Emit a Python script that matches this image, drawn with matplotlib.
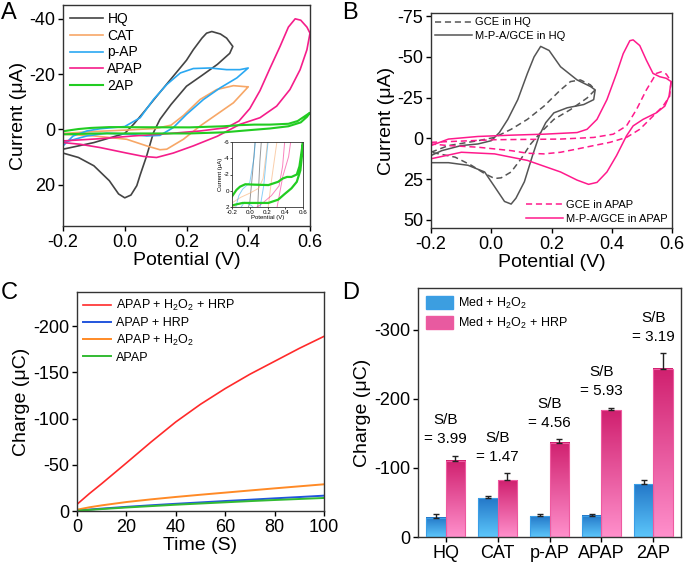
import numpy as np
import matplotlib
matplotlib.use("Agg")
import matplotlib.pyplot as plt
from matplotlib.colors import LinearSegmentedColormap
from matplotlib.patches import Patch

plt.rcParams["font.family"] = ["Liberation Sans", "DejaVu Sans"]
plt.rcParams["mathtext.fontset"] = "custom"
plt.rcParams["mathtext.rm"] = "Liberation Sans"
plt.rcParams["mathtext.it"] = "Liberation Sans:italic"
plt.rcParams["axes.unicode_minus"] = False
plt.rcParams["axes.linewidth"] = 1.0
plt.rcParams["axes.edgecolor"] = "#333333"
plt.rcParams["lines.solid_joinstyle"] = "round"

# ---------------- A: CV of mediators (potential V, current uA) ----------------
hq_fwd_v = [-0.2, -0.1, 0.0, 0.03, 0.06, 0.1, 0.157, 0.2, 0.222, 0.25, 0.265, 0.282, 0.31, 0.33, 0.35]
hq_fwd_i = [7.2, 4.8, 1.5, -2, -6, -11.5, -19.2, -25, -28.8, -33, -34.8, -35.4, -34.5, -33, -30]
hq_rev_v = [0.35, 0.34, 0.3, 0.25, 0.2, 0.15, 0.114, 0.093, 0.071, 0.05, 0.039, 0.02, 0.0, -0.02, -0.05, -0.1, -0.15, -0.2]
hq_rev_i = [-30, -27.5, -23.5, -19.5, -15.6, -9, -3.6, 1.2, 9.6, 16.5, 20.4, 23.8, 24.8, 23.4, 18.6, 13.2, 10.2, 8.6]

cat_fwd_v = [-0.2, -0.1, 0.0, 0.1, 0.15, 0.19, 0.244, 0.298, 0.352, 0.395, 0.4]
cat_fwd_i = [1.5, 0.8, 0.3, -0.3, -1.5, -5, -10.8, -14.4, -15.8, -15.4, -15.4]
cat_rev_v = [0.4, 0.352, 0.298, 0.244, 0.19, 0.136, 0.114, 0.071, 0.006, -0.1, -0.2]
cat_rev_i = [-15.4, -9.6, -5.4, -1.2, 3.6, 7.2, 7.4, 6, 3.6, 2.4, 1.8]

pap_fwd_v = [-0.2, -0.167, -0.123, -0.08, 0.0, 0.05, 0.093, 0.136, 0.18, 0.222, 0.276, 0.33, 0.373, 0.4]
pap_fwd_i = [6.0, 2.4, 0.6, -0.2, -1.0, -4.2, -10.8, -16.2, -20.4, -22, -22.2, -21.6, -21.6, -22.2]
pap_rev_v = [0.4, 0.363, 0.309, 0.255, 0.2, 0.157, 0.114, 0.071, 0.017, -0.058, -0.123, -0.2]
pap_rev_i = [-22.2, -18.6, -15, -10.8, -5.4, -0.6, 2.2, 2.4, 1.8, 1.4, 2.4, 4.8]

apap_fwd_v = [-0.2, -0.08, 0.028, 0.136, 0.244, 0.33, 0.37, 0.405, 0.438, 0.47, 0.503, 0.53, 0.552, 0.57, 0.59, 0.6]
apap_fwd_i = [4.2, 3.4, 2.4, 1.6, 0.6, -0.6, -3, -7.5, -14, -22, -30, -37, -40, -39.5, -37, -34.8]
apap_rev_v = [0.6, 0.59, 0.568, 0.535, 0.492, 0.438, 0.373, 0.3, 0.222, 0.157, 0.103, 0.06, 0.006, -0.08, -0.145, -0.2]
apap_rev_i = [-34.8, -28.8, -21.6, -14.4, -8.4, -4.2, -1.8, 2.5, 6, 8.6, 10.2, 9.8, 8.6, 6.6, 5.4, 4.8]

ap2_fwd_v = [-0.2, -0.15, -0.11, -0.05, 0.05, 0.21, 0.32, 0.37, 0.42, 0.47, 0.53, 0.56, 0.58, 0.6]
ap2_fwd_i = [0.7, -0.1, -0.5, -0.8, -0.75, -0.7, -1.1, -1.5, -1.7, -1.7, -2.0, -3.0, -4.5, -6]
ap2_rev_v = [0.6, 0.59, 0.57, 0.53, 0.47, 0.39, 0.32, 0.21, 0.07, -0.08, -0.2]
ap2_rev_i = [-6, -4.5, -2.5, -1.1, -0.3, 0.43, 1.1, 1.5, 1.5, 1.5, 1.8]

# ---------------- B: bare GCE vs M-P-A/GCE ----------------
gce_hq_fwd_v = [-0.2, -0.142, -0.044, 0.011, 0.066, 0.12, 0.175, 0.23, 0.263, 0.296, 0.329, 0.345]
gce_hq_fwd_i = [8.5, 4.4, 1.4, -0.6, -5.6, -11.7, -19.8, -29.8, -34.9, -35.9, -32.9, -29.8]
gce_hq_rev_v = [0.345, 0.318, 0.263, 0.208, 0.164, 0.131, 0.099, 0.066, 0.033, 0.011, -0.022, -0.066, -0.12, -0.2]
gce_hq_rev_i = [-29.8, -24.8, -17.7, -11.7, -3.6, 3.4, 12.5, 20.6, 24.2, 24.6, 21.6, 16.5, 11.5, 8.5]

mpa_hq_fwd_v = [-0.2, -0.164, -0.1, -0.044, 0.0, 0.027, 0.055, 0.088, 0.12, 0.142, 0.164, 0.192, 0.23, 0.285, 0.329, 0.345]
mpa_hq_fwd_i = [10.5, 7.5, 4.4, 3.4, 1.4, -3.6, -11.7, -23.8, -39.9, -50, -56.5, -54, -44, -35.9, -31.9, -29.8]
mpa_hq_rev_v = [0.345, 0.34, 0.307, 0.252, 0.208, 0.181, 0.159, 0.137, 0.11, 0.082, 0.066, 0.044, 0.011, -0.022, -0.077, -0.142, -0.2]
mpa_hq_rev_i = [-29.8, -23.8, -20.8, -18.8, -15.7, -9.7, -1.6, 10.5, 26.6, 36.7, 40.3, 38.7, 29.6, 20.6, 16.5, 14.9, 14.9]

gce_apap_fwd_v = [-0.2, 0.011, 0.23, 0.34, 0.405, 0.449, 0.482, 0.515, 0.548, 0.564, 0.581, 0.597]
gce_apap_fwd_i = [2.4, 0.8, 0.4, -0.6, -2.6, -7.7, -17.7, -29.8, -39.9, -40.9, -39.5, -34.9]
gce_apap_rev_v = [0.597, 0.592, 0.57, 0.537, 0.493, 0.449, 0.394, 0.34, 0.285, 0.23, 0.175, 0.12, 0.066, -0.044, -0.142, -0.2]
gce_apap_rev_i = [-34.9, -25.8, -19.8, -13.7, -5.6, -0.6, 2.4, 4.4, 6.5, 8.5, 9.5, 9.1, 7.5, 5.4, 4.4, 3.4]

mpa_apap_fwd_v = [-0.2, -0.142, -0.044, 0.066, 0.175, 0.285, 0.318, 0.351, 0.384, 0.416, 0.438, 0.46, 0.471, 0.493, 0.515, 0.537, 0.559, 0.581, 0.597]
mpa_apap_fwd_i = [4.4, 0.4, -1.2, -2, -2.6, -3.6, -5.6, -11.7, -23.8, -39.9, -52, -60, -60.5, -57, -48, -39.9, -37.9, -36.9, -34.9]
mpa_apap_rev_v = [0.597, 0.59, 0.576, 0.548, 0.504, 0.471, 0.449, 0.416, 0.384, 0.351, 0.323, 0.285, 0.23, 0.12, 0.011, -0.099, -0.2]
mpa_apap_rev_i = [-34.9, -25.8, -19.8, -15.7, -11.7, -7.7, -1.6, 10.5, 20.6, 27, 28.2, 25.6, 20.6, 13.5, 9.5, 8.5, 12.5]

# ---------------- C: charge vs time ----------------
t_c = [0, 5, 10, 20, 30, 40, 50, 60, 70, 80, 90, 100]
q_h2o2_hrp = [-7.2, -18.8, -29.6, -52, -74.7, -96.4, -115.5, -132.5, -148, -162, -176, -189]
q_hrp = [-0.5, -1.6, -2.6, -4.5, -6.2, -7.8, -9.3, -10.8, -12.2, -13.7, -15.1, -16.6]
q_h2o2 = [-1.4, -4, -6.1, -9.7, -12.6, -15.2, -17.6, -19.9, -22.2, -24.5, -26.7, -28.9]
q_apap = [-0.3, -1.2, -2.1, -3.8, -5.3, -6.8, -8.1, -9.4, -10.7, -11.9, -13, -14.1]

# ---------------- D: bars ----------------
med_names = ["HQ", "CAT", "p-AP", "APAP", "2AP"]
q_med = [-27.6, -55.8, -29.8, -30.9, -76.3]
q_med_err = [5, 4, 3.5, 2, 6]
q_med_hrp = [-110, -82, -136, -183, -243.5]
q_med_hrp_err = [7, 10, 5, 3.5, 22]
sb_ratio = ["3.99", "1.47", "4.56", "5.93", "3.19"]

TICK = 13
LAB = 14

fig = plt.figure(figsize=(6.85, 5.62), dpi=100)


def style(ax):
    ax.tick_params(direction="out", length=3.5, width=1, labelsize=TICK, top=False, right=False, pad=2)


def loop(fv, fi, rv, ri):
    return list(fv) + list(rv[1:]), list(fi) + list(ri[1:])


# ---------- Panel A ----------
axA = fig.add_axes([63 / 685, 1 - 226 / 562, 247 / 685, 221 / 562])
curvesA = [
    ("HQ", "#444444", hq_fwd_v, hq_fwd_i, hq_rev_v, hq_rev_i, 1.2),
    ("CAT", "#f7a767", cat_fwd_v, cat_fwd_i, cat_rev_v, cat_rev_i, 1.2),
    ("p-AP", "#2aa8f2", pap_fwd_v, pap_fwd_i, pap_rev_v, pap_rev_i, 1.2),
    ("APAP", "#f51d8a", apap_fwd_v, apap_fwd_i, apap_rev_v, apap_rev_i, 1.2),
    ("2AP", "#22cc22", ap2_fwd_v, ap2_fwd_i, ap2_rev_v, ap2_rev_i, 1.5),
]
for name, c, fv, fi, rv, ri, lw in curvesA:
    x, y = loop(fv, fi, rv, ri)
    axA.plot(x, y, color=c, lw=lw, label=name)
axA.set_xlim(-0.2, 0.6)
axA.set_ylim(35, -45)
axA.set_xticks([-0.2, 0.0, 0.2, 0.4, 0.6])
axA.set_yticks([-40, -20, 0, 20])
style(axA)
axA.set_xlabel("Potential (V)", fontsize=LAB, labelpad=1)
axA.set_ylabel("Current (μA)", fontsize=LAB, labelpad=2)
axA.legend(loc="upper left", frameon=False, fontsize=10, handlelength=2.4,
           handletextpad=0.3, labelspacing=0.2, borderaxespad=0.3, borderpad=0.2)

# inset
axI = fig.add_axes([232 / 685, 1 - 207 / 562, 71 / 685, 65 / 562])
for name, c, fv, fi, rv, ri, lw in curvesA:
    x, y = loop(fv, fi, rv, ri)
    if name == "2AP":
        axI.plot(x, y, color=c, lw=1.6)
    else:
        axI.plot(x, y, color=c, lw=0.7, alpha=0.55)
axI.set_xlim(-0.2, 0.6)
axI.set_ylim(2, -6)
axI.set_xticks([-0.2, 0.0, 0.2, 0.4, 0.6])
axI.set_yticks([-6, -4, -2, 0, 2])
axI.tick_params(direction="out", length=1.5, width=0.5, labelsize=4.5, pad=0.5)
for s in axI.spines.values():
    s.set_linewidth(0.6)
axI.set_xlabel("Potential (V)", fontsize=4.3, labelpad=0.3)
axI.set_ylabel("Current (μA)", fontsize=4.3, labelpad=0.3)

# ---------- Panel B ----------
axB = fig.add_axes([431 / 685, 1 - 228 / 562, 241 / 685, 215 / 562])
h1, = axB.plot(*loop(gce_hq_fwd_v, gce_hq_fwd_i, gce_hq_rev_v, gce_hq_rev_i),
               color="#555555", lw=1.1, ls=(0, (4, 2.5)), label="GCE in HQ")
h2, = axB.plot(*loop(mpa_hq_fwd_v, mpa_hq_fwd_i, mpa_hq_rev_v, mpa_hq_rev_i),
               color="#555555", lw=1.1, label="M-P-A/GCE in HQ")
h3, = axB.plot(*loop(gce_apap_fwd_v, gce_apap_fwd_i, gce_apap_rev_v, gce_apap_rev_i),
               color="#ff1a8c", lw=1.1, ls=(0, (4, 2.5)), label="GCE in APAP")
h4, = axB.plot(*loop(mpa_apap_fwd_v, mpa_apap_fwd_i, mpa_apap_rev_v, mpa_apap_rev_i),
               color="#ff1a8c", lw=1.1, label="M-P-A/GCE in APAP")
axB.set_xlim(-0.2, 0.6)
axB.set_ylim(55, -77)
axB.set_xticks([-0.2, 0.0, 0.2, 0.4, 0.6])
axB.set_yticks([-75, -50, -25, 0, 25, 50])
style(axB)
axB.set_xlabel("Potential (V)", fontsize=LAB, labelpad=1)
axB.set_ylabel("Current (μA)", fontsize=LAB, labelpad=2)
legB1 = axB.legend(handles=[h1, h2], loc="upper left", frameon=False, fontsize=8,
                   handlelength=3.3, handletextpad=0.3, labelspacing=0.3,
                   borderaxespad=0.2, borderpad=0.2)
axB.add_artist(legB1)
axB.legend(handles=[h3, h4], loc="lower right", frameon=False, fontsize=8,
           handlelength=3.3, handletextpad=0.3, labelspacing=0.3,
           borderaxespad=0.2, borderpad=0.2)

# ---------- Panel C ----------
axC = fig.add_axes([77 / 685, 1 - 511 / 562, 247 / 685, 219 / 562])
lc1, = axC.plot(t_c, q_h2o2_hrp, color="#ff2a2a", lw=1.2, label="APAP + H$_2$O$_2$ + HRP")
lc2, = axC.plot(t_c, q_hrp, color="#2255dd", lw=1.4, label="APAP + HRP")
lc3, = axC.plot(t_c, q_h2o2, color="#ff8a26", lw=1.4, label="APAP + H$_2$O$_2$")
lc4, = axC.plot(t_c, q_apap, color="#33bb33", lw=1.4, label="APAP")
axC.set_xlim(0, 100)
axC.set_ylim(0, -237)
axC.set_xticks([0, 20, 40, 60, 80, 100])
axC.set_yticks([0, -50, -100, -150, -200])
style(axC)
axC.set_xlabel("Time (S)", fontsize=LAB, labelpad=1)
axC.set_ylabel("Charge (μC)", fontsize=LAB, labelpad=2)
axC.legend(handles=[lc1, lc2, lc3, lc4], loc="upper left", frameon=False, fontsize=9,
           handlelength=2.2, handletextpad=0.4, labelspacing=0.3,
           borderaxespad=0.3, borderpad=0.2)

# ---------- Panel D ----------
axD = fig.add_axes([418 / 685, 1 - 537 / 562, 263 / 685, 249 / 562])
xs = np.arange(1, len(med_names) + 1)
w = 0.37
grad = np.linspace(0, 1, 256).reshape(-1, 1)


def grad_bars(ax, x, vals, c_bot, c_top, edge):
    cmap = LinearSegmentedColormap.from_list("g", [c_bot, c_top])
    bars = ax.bar(x, vals, w, facecolor="none", edgecolor=edge, linewidth=0.8, zorder=3)
    for b in bars:
        x0, y0 = b.get_x(), b.get_y()
        ax.imshow(grad, extent=(x0, x0 + b.get_width(), y0, y0 + b.get_height()),
                  origin="lower", aspect="auto", cmap=cmap, zorder=2)
    return bars


grad_bars(axD, xs - w / 2, q_med, "#5cc6fb", "#2478c8", "#3a9ee6")
grad_bars(axD, xs + w / 2, q_med_hrp, "#ff90cc", "#d0206f", "#ee5aa0")
zeros = [0] * len(xs)
axD.errorbar(xs - w / 2, q_med, yerr=[q_med_err, zeros], fmt="none", ecolor="#222222",
             elinewidth=1, capsize=2.5, capthick=1, zorder=4)
axD.errorbar(xs + w / 2, q_med_hrp, yerr=[q_med_hrp_err, zeros], fmt="none", ecolor="#222222",
             elinewidth=1, capsize=2.5, capthick=1, zorder=4)
for x, v, e, r in zip(xs, q_med_hrp, q_med_hrp_err, sb_ratio):
    axD.text(x, v - e - 38, f"S/B\n= {r}", ha="center", va="center", fontsize=11,
             linespacing=1.45)
axD.set_xlim(0.47, 5.53)
axD.set_ylim(0, -360)
axD.set_xticks(xs)
axD.set_xticklabels(med_names)
axD.set_yticks([0, -100, -200, -300])
style(axD)
axD.set_ylabel("Charge (μC)", fontsize=LAB, labelpad=2)
legD = [Patch(facecolor="#3c9ee0", edgecolor="#3a9ee6", label="Med + H$_2$O$_2$"),
        Patch(facecolor="#e85aa0", edgecolor="#ee5aa0", label="Med + H$_2$O$_2$ + HRP")]
axD.legend(handles=legD, loc="upper left", frameon=False, fontsize=9,
           handlelength=2.2, handleheight=1.3, handletextpad=0.4, labelspacing=0.4,
           borderaxespad=0.4, borderpad=0.2)

# panel letters
for lbl, x, y in [("A", 1, 2), ("B", 342, 2), ("C", 1, 282), ("D", 342, 282)]:
    fig.text(x / 685, 1 - y / 562, lbl, fontsize=17, va="top", ha="left")

fig.savefig("out.png", dpi=100)
